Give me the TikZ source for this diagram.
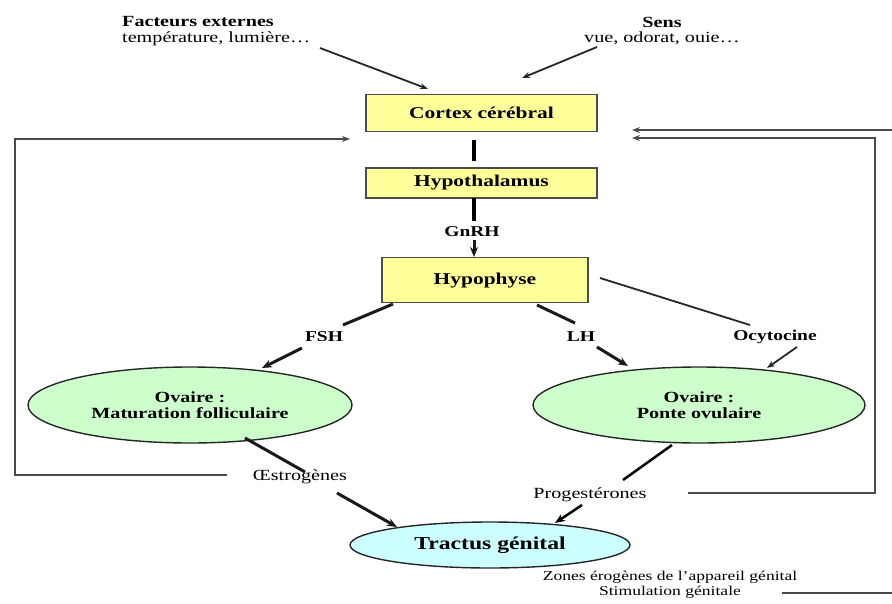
\documentclass[tikz,border=0pt]{standalone}
\usepackage{fontspec}
\setmainfont{Liberation Serif}[FakeStretch=1.3]
\usetikzlibrary{arrows.meta,shapes.geometric}
\definecolor{boxyellow}{HTML}{FFFF99}
\definecolor{ovgreen}{HTML}{CCFFCC}
\definecolor{tractcyan}{HTML}{CCFFFF}
\definecolor{linegray}{HTML}{4A4A4A}
\begin{document}
\begin{tikzpicture}[x=1pt,y=-1pt,
  ybox/.style={draw=black!70, line width=1.2pt, fill=boxyellow, inner sep=0pt,
    font=\fontsize{16.5}{18}\selectfont\bfseries},
  ovell/.style={ellipse, draw=black!85, line width=1.4pt, fill=ovgreen, inner sep=0pt, align=center,
    font=\fontsize{15.5}{16.5}\selectfont\bfseries},
  lbl/.style={inner sep=1pt, font=\fontsize{15}{16}\selectfont\bfseries},
  rlbl/.style={inner sep=1pt, font=\fontsize{15.5}{16}\selectfont},
  thickln/.style={line width=3pt, draw=black!90},
  thinln/.style={line width=1.8pt, draw=black!85},
  fbln/.style={line width=2pt, draw=linegray},
  tip/.style={-{Stealth[length=10pt,width=8pt]}},
  smalltip/.style={-{Stealth[length=8pt,width=6pt]}}
]
\useasboundingbox (0,0) rectangle (892,603);

% boxes
\node[ybox, minimum width=231pt, minimum height=37pt] (cortex) at (481.5,113) {Cortex cérébral};
\node[ybox, minimum width=231pt, minimum height=30pt] (hypoth) at (481.5,183) {Hypothalamus};
\node[ybox, minimum width=206pt, minimum height=45pt, anchor=north] (hypoph) at (485,257) {Hypophyse};

% ellipses
\node[ovell, minimum width=324pt, minimum height=76pt] (ovL) at (190,405) {Ovaire :\\Maturation folliculaire};
\node[ovell, minimum width=332pt, minimum height=76pt] (ovR) at (699,405) {Ovaire :\\Ponte ovulaire};
\node[ellipse, draw=black!85, line width=1.4pt, fill=tractcyan, inner sep=0pt,
  minimum width=280pt, minimum height=46pt, font=\fontsize{18.2}{20}\selectfont\bfseries] (tract) at (490,545) {Tractus génital};

% top texts
\node[anchor=west, align=left, inner sep=0pt, font=\fontsize{15.5}{15.5}\selectfont] (fact) at (122,31)
  {\textbf{Facteurs externes}\\température, lumière\ldots};
\node[align=center, inner sep=0pt, font=\fontsize{15.5}{15.5}\selectfont] (sens) at (662,31)
  {\textbf{Sens}\\vue, odorat, ouie\ldots};

% labels
\node[lbl] (gnrh) at (472,232) {GnRH};
\node[lbl] (fsh) at (324,337) {FSH};
\node[lbl] (lh) at (581,337) {LH};
\node[lbl] (ocyt) at (775,337) {Ocytocine};
\node[rlbl] (oestro) at (300,477) {Œstrogènes};
\node[rlbl] (proges) at (590,495) {Progestérones};
\node[align=center, inner sep=0pt, font=\fontsize{13.5}{15}\selectfont] (zones) at (670,585)
  {Zones érogènes de l’appareil génital\\Stimulation génitale};

% coordinates
\coordinate (factS) at (320,48);
\coordinate (factE) at (428,89);
\coordinate (sensS) at (597,47);
\coordinate (sensE) at (522,78);
\coordinate (chA) at (474,140);
\coordinate (chB) at (474,161);
\coordinate (hgA) at (474,198);
\coordinate (hgB) at (474,221);
\coordinate (ghA) at (474,240);
\coordinate (fshA) at (393,304);
\coordinate (fshB) at (343,325);
\coordinate (fshC) at (302,348);
\coordinate (fshD) at (262,368);
\coordinate (lhA) at (537,305);
\coordinate (lhB) at (575,323);
\coordinate (lhC) at (597,347);
\coordinate (lhD) at (628,366);
\coordinate (ocA) at (600,278);
\coordinate (ocB) at (750,325);
\coordinate (ocC) at (797,347);
\coordinate (ocD) at (767,368);
\coordinate (esA) at (245,438);
\coordinate (esB) at (305,472);
\coordinate (esC) at (337,493);
\coordinate (esD) at (397,527);
\coordinate (prA) at (672,445);
\coordinate (prB) at (623,480);
\coordinate (prC) at (582,505);
\coordinate (prD) at (555,523);
\coordinate (lfA) at (227,475);
\coordinate (lfB) at (15,475);
\coordinate (lfC) at (15,139);
\coordinate (lfD) at (350,139);
\coordinate (rfA) at (688,493);
\coordinate (rfB) at (875,493);
\coordinate (rfC) at (875,138);
\coordinate (rfD) at (632,138);
\coordinate (topA) at (892,130);
\coordinate (topB) at (632,130);
\coordinate (botA) at (782,593);
\coordinate (botB) at (892,593);

% connectors
\draw[thinln, smalltip] (factS) -- (factE);
\draw[thinln, smalltip] (sensS) -- (sensE);
\draw[line width=4pt] (chA) -- (chB);
\draw[line width=4pt] (hgA) -- (hgB);
\draw[thickln, tip] (ghA) -- (ghA |- hypoph.north);
\draw[thickln] (fshA) -- (fshB);
\draw[thickln, tip] (fshC) -- (fshD);
\draw[thickln] (lhA) -- (lhB);
\draw[thickln, tip] (lhC) -- (lhD);
\draw[thinln] (ocA) -- (ocB);
\draw[thinln, smalltip] (ocC) -- (ocD);
\draw[thickln] (esA) -- (esB);
\draw[thickln, tip] (esC) -- (esD);
\draw[line width=2.5pt] (prA) -- (prB);
\draw[line width=2.5pt, tip] (prC) -- (prD);
\draw[fbln, smalltip] (lfA) -- (lfB) -- (lfC) -- (lfD);
\draw[fbln, smalltip] (rfA) -- (rfB) -- (rfC) -- (rfD);
\draw[fbln, smalltip] (topA) -- (topB);
\draw[fbln] (botA) -- (botB);
\end{tikzpicture}
\end{document}
